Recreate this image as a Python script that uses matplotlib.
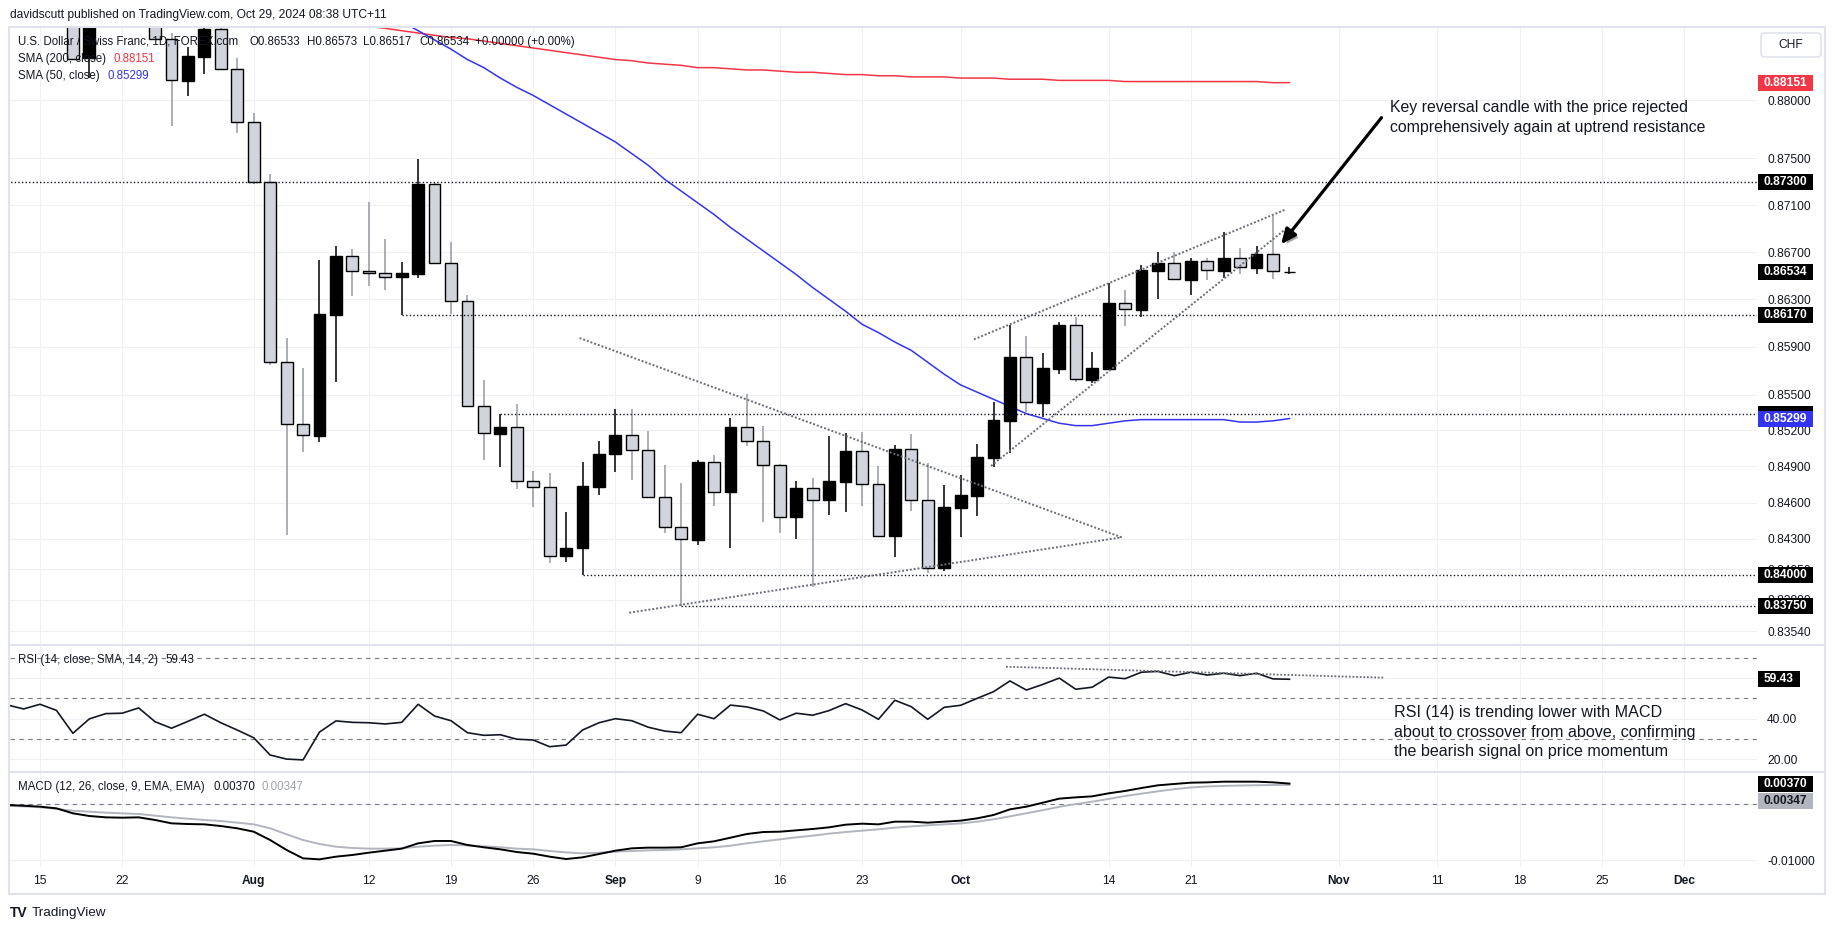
import numpy as np
import pandas as pd
import matplotlib
matplotlib.use("Agg")
import matplotlib.pyplot as plt
from matplotlib.patches import Rectangle, FancyBboxPatch, FancyArrowPatch
from matplotlib.lines import Line2D
from matplotlib.transforms import IdentityTransform
from matplotlib.ticker import NullLocator
import matplotlib.patheffects as pe

plt.rcParams['font.family'] = ['Liberation Sans', 'DejaVu Sans']

W, H, DPI = 1835, 931, 100
TXT = '#131722'

# ---------------- data ----------------
dates = pd.bdate_range('2024-07-11', '2024-10-29')

opens = [0.9010, 0.8965,
         0.8960, 0.8975, 0.8940, 0.8836, 0.8880,
         0.8905, 0.8910, 0.8895, 0.88528, 0.88168,
         0.88375, 0.88612, 0.88266, 0.87809, 0.8730,
         0.85770, 0.85251, 0.85156, 0.86171, 0.86665,
         0.86538, 0.86521, 0.86487, 0.86518, 0.87280,
         0.86605, 0.86284, 0.85401, 0.85173, 0.85226,
         0.84777, 0.84727, 0.84161, 0.84222, 0.84732,
         0.85001, 0.85159, 0.85034, 0.84649, 0.84396,
         0.84291, 0.84935, 0.84690, 0.85226, 0.85109,
         0.84915, 0.84478, 0.84719, 0.84624, 0.84774,
         0.85026, 0.84752, 0.84326, 0.85043, 0.84619,
         0.84063, 0.84558, 0.84657, 0.84973, 0.85281,
         0.85815, 0.85433, 0.85714, 0.86084, 0.85624,
         0.85714, 0.86267, 0.86210, 0.86543, 0.86605,
         0.86467, 0.86625, 0.86543, 0.86648, 0.86568,
         0.86682, 0.86533]
highs = [0.9025, 0.8980,
         0.8985, 0.8980, 0.8950, 0.8895, 0.8915,
         0.8920, 0.8925, 0.8905, 0.8858, 0.88456,
         0.8868, 0.8866, 0.88361, 0.87886, 0.87366,
         0.85972, 0.85720, 0.86633, 0.86752, 0.86727,
         0.87127, 0.86812, 0.86614, 0.87494, 0.87290,
         0.86786, 0.86335, 0.85622, 0.85340, 0.85421,
         0.84860, 0.84846, 0.84525, 0.84937, 0.85112,
         0.85379, 0.85379, 0.85195, 0.84912, 0.84765,
         0.84954, 0.84996, 0.85304, 0.85504, 0.85237,
         0.84920, 0.84779, 0.84804, 0.85153, 0.85176,
         0.85187, 0.84904, 0.85078, 0.85168, 0.84931,
         0.84746, 0.84829, 0.85084, 0.85435, 0.86084,
         0.85991, 0.85848, 0.86107, 0.86154, 0.85857,
         0.86436, 0.86379, 0.86591, 0.86701, 0.86701,
         0.86653, 0.86653, 0.86874, 0.86735, 0.86752,
         0.87010, 0.86573]
lows = [0.8955, 0.8940,
        0.8950, 0.8930, 0.8835, 0.88188, 0.8870,
        0.8875, 0.8875, 0.8852, 0.87780, 0.88038,
        0.88223, 0.88266, 0.87720, 0.87278, 0.85747,
        0.84332, 0.85023, 0.85106, 0.85607, 0.86331,
        0.86416, 0.86382, 0.86170, 0.86484, 0.86600,
        0.86174, 0.85395, 0.84954, 0.84898, 0.84715,
        0.84566, 0.84099, 0.84107, 0.84000, 0.84661,
        0.84856, 0.84787, 0.84641, 0.84346, 0.83750,
        0.84250, 0.84572, 0.84227, 0.85070, 0.84440,
        0.84351, 0.84299, 0.83906, 0.84497, 0.84522,
        0.84572, 0.84312, 0.84153, 0.84531, 0.84022,
        0.84038, 0.84318, 0.84492, 0.84898, 0.85009,
        0.85356, 0.85312, 0.85669, 0.85602, 0.85599,
        0.85706, 0.86078, 0.86154, 0.86303, 0.86464,
        0.86337, 0.86464, 0.86484, 0.86515, 0.86518,
        0.86475, 0.86517]
closes = [0.8965, 0.8960,
          0.8975, 0.8940, 0.88355, 0.8880, 0.8905,
          0.8910, 0.8895, 0.88528, 0.88171, 0.88381,
          0.88612, 0.88266, 0.87809, 0.8730, 0.85770,
          0.85251, 0.85159, 0.86174, 0.86667, 0.86538,
          0.86521, 0.86487, 0.86524, 0.87280, 0.86605,
          0.86284, 0.85401, 0.85176, 0.85226, 0.84777,
          0.84727, 0.84161, 0.84225, 0.84738, 0.85004,
          0.85159, 0.85034, 0.84649, 0.84396, 0.84299,
          0.84935, 0.84690, 0.85226, 0.85109, 0.84915,
          0.84478, 0.84719, 0.84624, 0.84777, 0.85026,
          0.84752, 0.84326, 0.85043, 0.84619, 0.84063,
          0.84561, 0.84663, 0.84979, 0.85287, 0.85815,
          0.85435, 0.85720, 0.86084, 0.85628, 0.85720,
          0.86267, 0.86216, 0.86549, 0.86605, 0.86470,
          0.86625, 0.86549, 0.86648, 0.86571, 0.86682,
          0.86538, 0.86534]

sma200 = [0.8906, 0.8904, 0.8902, 0.8900, 0.8898, 0.8897, 0.8895, 0.8893, 0.8891, 0.8889,
          0.8887, 0.8885, 0.8883, 0.8881, 0.8879, 0.8877, 0.8875, 0.8873, 0.8871, 0.8869,
          0.8868, 0.8866, 0.8864, 0.8862, 0.8860, 0.8858, 0.8856, 0.8854, 0.8853, 0.8851,
          0.8849, 0.8847, 0.8845, 0.8843, 0.8841, 0.8839, 0.8837, 0.8835, 0.8834, 0.8832,
          0.8831, 0.8830, 0.8828, 0.8828, 0.8827, 0.8826, 0.8826, 0.8825, 0.8824, 0.8824,
          0.8823, 0.8822, 0.8822, 0.8821, 0.8821, 0.8820, 0.8820, 0.8820, 0.8819, 0.8819,
          0.8819, 0.8818, 0.8818, 0.8818, 0.8817, 0.8817, 0.8817, 0.8817, 0.8816, 0.8816,
          0.8816, 0.8816, 0.8816, 0.8816, 0.8816, 0.8816, 0.8816, 0.8815, 0.88151]
sma50 = [0.8961, 0.8958, 0.8955, 0.8952, 0.8949, 0.8946, 0.8943, 0.8940, 0.8937, 0.8934,
         0.8931, 0.8928, 0.8925, 0.8922, 0.8919, 0.8915, 0.8911, 0.8907, 0.8903, 0.8898,
         0.8893, 0.8887, 0.8881, 0.8875,
         0.8868, 0.8860, 0.8852, 0.8844, 0.8835, 0.8828, 0.8819, 0.8811, 0.8804, 0.8796,
         0.8788, 0.8780, 0.8772, 0.8764, 0.8754, 0.8744, 0.8732, 0.8722, 0.8712, 0.8702,
         0.8691, 0.8681, 0.8671, 0.8661, 0.8651, 0.8640, 0.8630, 0.8620, 0.8609, 0.8602,
         0.8594, 0.8587, 0.8577, 0.8567, 0.8558, 0.8552, 0.8546, 0.8540, 0.8534, 0.8530,
         0.8526, 0.8524, 0.8524, 0.8526, 0.8528, 0.8529, 0.8529, 0.8529, 0.8529, 0.8529,
         0.8529, 0.8527, 0.8527, 0.8528, 0.85299]

rsi = [46.8, 44.8, 47.1, 44.1, 32.8, 39.9, 42.5, 42.7, 45.3, 38.5,
       35.3, 38.7, 42.2, 38.0, 34.4, 30.6, 22.1, 20.1, 19.7, 33.4,
       38.9, 38.2, 38.0, 37.4, 38.2, 47.1, 41.3, 39.0, 33.1, 31.8,
       32.1, 29.9, 29.5, 26.2, 27.0, 34.4, 38.0, 40.0, 39.0, 35.8,
       33.9, 33.1, 42.2, 40.0, 46.7, 45.8, 43.8, 39.4, 42.7, 41.7,
       44.0, 47.4, 44.3, 39.7, 49.1, 45.9, 39.7, 45.6, 46.6, 50.0,
       53.3, 58.6, 54.1, 56.9, 60.0, 54.5, 55.5, 60.5, 59.7, 62.9,
       63.3, 61.2, 62.9, 61.5, 62.4, 61.2, 62.4, 59.6, 59.43]

macd = [-0.00013, -0.00025, -0.00042, -0.00072, -0.00161, -0.00209, -0.00233, -0.00239, -0.00233, -0.00280,
        -0.00340, -0.00352, -0.00358, -0.00388, -0.00429, -0.00489, -0.00638, -0.00816, -0.00965, -0.00983,
        -0.00935, -0.00905, -0.00864, -0.00828, -0.00792, -0.00697, -0.00655, -0.00655, -0.00727, -0.00768,
        -0.00804, -0.00852, -0.00882, -0.00935, -0.00977, -0.00947, -0.00888, -0.00828, -0.00786, -0.00774,
        -0.00774, -0.00768, -0.00697, -0.00661, -0.00596, -0.00530, -0.00495, -0.00489, -0.00465, -0.00441,
        -0.00411, -0.00364, -0.00346, -0.00358, -0.00310, -0.00310, -0.00328, -0.00310, -0.00292, -0.00251,
        -0.00191, -0.00090, -0.00042, 0.00029, 0.00101, 0.00124, 0.00142, 0.00196, 0.00238, 0.00291,
        0.00339, 0.00363, 0.00386, 0.00392, 0.00404, 0.00404, 0.00404, 0.00392, 0.00370]
signal = [-0.00024, -0.00038, -0.00052, -0.00082, -0.00114, -0.00132, -0.00149, -0.00161, -0.00173, -0.00203,
          -0.00233, -0.00257, -0.00280, -0.00298, -0.00328, -0.00358, -0.00429, -0.00536, -0.00638, -0.00709,
          -0.00757, -0.00780, -0.00792, -0.00792, -0.00786, -0.00757, -0.00739, -0.00727, -0.00733, -0.00751,
          -0.00768, -0.00792, -0.00804, -0.00834, -0.00858, -0.00876, -0.00864, -0.00846, -0.00834, -0.00822,
          -0.00816, -0.00804, -0.00786, -0.00768, -0.00739, -0.00697, -0.00661, -0.00626, -0.00590, -0.00560,
          -0.00524, -0.00495, -0.00471, -0.00447, -0.00417, -0.00395, -0.00375, -0.00358, -0.00342, -0.00310,
          -0.00268, -0.00215, -0.00160, -0.00105, -0.00045, 0.00003, 0.00047, 0.00095, 0.00148, 0.00190,
          0.00232, 0.00270, 0.00300, 0.00318, 0.00328, 0.00335, 0.00340, 0.00344, 0.00347]

date_ticks = ['2024-07-15', '2024-07-22', '2024-08-01', '2024-08-12', '2024-08-19', '2024-08-26',
              '2024-09-02', '2024-09-09', '2024-09-16', '2024-09-23', '2024-10-01', '2024-10-14',
              '2024-10-21', '2024-11-01', '2024-11-11', '2024-11-18', '2024-11-25', '2024-12-02']
date_tick_labels = ['15', '22', 'Aug', '12', '19', '26', 'Sep', '9', '16', '23', 'Oct', '14',
                    '21', 'Nov', '11', '18', '25', 'Dec']
price_ticks = [0.88, 0.875, 0.871, 0.867, 0.863, 0.859, 0.855, 0.852, 0.849, 0.846, 0.843,
               0.8405, 0.838, 0.8354]

h_levels = [0.8730, 0.8617, 0.8534, 0.8400, 0.8375]
h_starts = ['2024-07-11', '2024-08-14', '2024-08-22', '2024-08-29', '2024-09-06']

# drawn trendlines: (bar position, value) pairs
tri_top = ([34.82, 67.79], [0.85974, 0.84313])
tri_bot = ([37.84, 67.79], [0.83693, 0.84313])
wedge_low = ([59.85, 77.85], [0.84904, 0.86905])
wedge_up = ([58.81, 77.79], [0.85963, 0.87064])
rsi_trend = ([60.76, 83.75], [65.6, 60.2])
arrow_from = (83.6, 0.87849)
arrow_to = (77.49, 0.86767)

for arr in (opens, highs, lows, closes, sma200, sma50, rsi, macd, signal):
    assert len(arr) == len(dates), len(arr)

# ---------------- figure ----------------
k = np.arange(len(dates))
o, hi, lo, c = map(np.array, (opens, highs, lows, closes))
up = c >= o
all_days = pd.bdate_range('2024-07-11', '2024-12-31')
pos_of = lambda d: all_days.get_loc(pd.Timestamp(d))
XL = (0.175, 106.44)

fig = plt.figure(figsize=(W / DPI, H / DPI), dpi=DPI, facecolor='white')


def frac(x0, y0, x1, y1):
    return [x0 / W, 1 - y1 / H, (x1 - x0) / W, (y1 - y0) / H]


ax = fig.add_axes(frac(10, 27, 1757, 645))
ax_rsi = fig.add_axes(frac(10, 645, 1757, 772), sharex=ax)
ax_macd = fig.add_axes(frac(10, 772, 1757, 867), sharex=ax)
ax.set_yscale('log')

GRID = '#eef0f5'
for a in (ax, ax_rsi, ax_macd):
    for s in a.spines.values():
        s.set_visible(False)
    a.grid(True, color=GRID, lw=0.8)
    a.set_axisbelow(True)
    a.yaxis.tick_right()
    a.tick_params(axis='y', which='both', length=0, pad=7.2, labelsize=8.64, labelcolor=TXT)
    a.tick_params(axis='x', length=0)

ax.set_xlim(*XL)
ax_macd.set_xticks([pos_of(d) for d in date_ticks], labels=date_tick_labels)
ax.tick_params(axis='x', labelbottom=False)
ax_rsi.tick_params(axis='x', labelbottom=False)
ax_macd.tick_params(axis='x', labelsize=8.64, labelcolor=TXT, pad=6)
for t in ax_macd.get_xticklabels():
    if t.get_text() in ('Aug', 'Sep', 'Oct', 'Nov', 'Dec'):
        t.set_fontweight('bold')

# main pane
ax.set_ylim(0.83429, 0.88632)
ax.set_yticks(price_ticks, labels=[f'{v:.5f}' for v in price_ticks])
ax.yaxis.set_minor_locator(NullLocator())

ax.vlines(k, lo, hi, colors=np.where(up, '#000000', '#9598a1'), lw=1.1, zorder=2)
ax.bar(k, np.maximum(np.abs(c - o), 1e-6), bottom=np.minimum(o, c), width=0.72,
       color=np.where(up, '#000000', '#d1d4dc'), edgecolor='#000000', linewidth=1.0, zorder=3)
ax.plot(k, sma200, color='#f23645', lw=1.1, zorder=2.5)
ax.plot(k, sma50, color='#3434f0', lw=1.1, zorder=2.5)

for lev, st in zip(h_levels, h_starts):
    ax.hlines(lev, pos_of(st), XL[1], colors=TXT, lw=1.0, linestyles=(0, (1, 1.6)), zorder=4)
for xs, ys in (tri_top, tri_bot, wedge_low, wedge_up):
    ax.plot(xs, ys, color='#6a6d78', lw=1.4, ls=(0, (1, 1)), zorder=4)

arrow = FancyArrowPatch(arrow_from, arrow_to, arrowstyle='-|>,head_length=9,head_width=4',
                        mutation_scale=1, lw=2.3, color='black', shrinkA=0, shrinkB=0, zorder=6,
                        path_effects=[pe.SimplePatchShadow(offset=(2, -2), alpha=0.35), pe.Normal()])
ax.add_patch(arrow)

# RSI pane
ax_rsi.set_ylim(13.74, 76.3)
ax_rsi.set_yticks([20, 40, 60], labels=['20.00', '40.00', '60.00'])
for lv in (70, 50, 30):
    ax_rsi.axhline(lv, color='#787b86', lw=0.8, ls=(0, (4, 4)), zorder=1)
ax_rsi.plot(k, rsi, color=TXT, lw=1.2, zorder=3)
ax_rsi.plot(*rsi_trend, color='#6a6d78', lw=1.3, ls=(0, (1, 1)), zorder=4)

# MACD pane (zero tick label sits fully under the signal label, so only its grid line is drawn)
ax_macd.set_ylim(-0.011196, 0.005768)
ax_macd.set_yticks([0.0, -0.01], labels=['', '-0.01000'])
ax_macd.axhline(0, color='#787b86', lw=0.8, ls=(0, (4, 4)), zorder=1)
ax_macd.plot(k, signal, color='#b2b5be', lw=1.4, zorder=3)
ax_macd.plot(k, macd, color='#000000', lw=1.4, zorder=4)

# ---------------- frame / separators ----------------
IT = IdentityTransform()
fig.add_artist(Rectangle((9, H - 894), 1816, 894 - 26.7, transform=IT, fill=False,
                         ec='#e0e3eb', lw=1.5, zorder=8))
for ysep in (645, 772):
    fig.add_artist(Line2D([9, 1825], [H - ysep, H - ysep], transform=IT, color='#e0e3eb', lw=1.5, zorder=8))

fig.add_artist(FancyBboxPatch((1761, H - 57), 60, 24, boxstyle='round,pad=0,rounding_size=4',
                              transform=IT, fc='white', ec='#e0e3eb', lw=1.2, zorder=8))
fig.text(1791 / W, (H - 45) / H, 'CHF', ha='center', va='center', fontsize=8.64, color=TXT, zorder=9)


def ypix(a, v):
    return a.transData.transform((XL[0], v))[1]


_z = [9.0]


def box(yc, text, fc, tc='white', x0=1758, w=55, hgt=16):
    z = _z[0]
    _z[0] += 0.1
    fig.add_artist(Rectangle((x0, yc - hgt / 2), w, hgt, transform=IT, fc=fc, ec='none', zorder=z))
    if text:
        fig.text((x0 + w / 2) / W, yc / H, text, ha='center', va='center', color=tc,
                 fontsize=8.64, fontweight='bold', zorder=z + 0.05)


box(ypix(ax, sma200[-1]), f'{sma200[-1]:.5f}', '#f23645')
for lev in h_levels:
    # the 0.8534 level label sits underneath the SMA(50) label
    box(ypix(ax, lev), f'{lev:.5f}' if lev != 0.8534 else '', '#000000')
box(ypix(ax, closes[-1]), f'{closes[-1]:.5f}', '#000000')
box(ypix(ax, sma50[-1]), f'{sma50[-1]:.5f}', '#3434f0')
box(ypix(ax_rsi, rsi[-1]), f'{rsi[-1]:.2f}', '#000000', w=42)
ym = ypix(ax_macd, macd[-1])
box(ym, f'{macd[-1]:.5f}', '#000000')
box(ym - 17, f'{signal[-1]:.5f}', '#b2b5be', tc=TXT)

# ---------------- texts ----------------
def ftxt(x, y, s, **kw):
    kw.setdefault('fontsize', 8.3)
    kw.setdefault('color', TXT)
    fig.text(x / W, 1 - y / H, s, va='center', ha='left', zorder=9, **kw)


ftxt(10, 15, 'davidscutt published on TradingView.com, Oct 29, 2024 08:38 UTC+11', fontsize=8.64)
ftxt(18, 42, 'U.S. Dollar / Swiss Franc, 1D, FOREX.com')
ftxt(249, 42, f'O{opens[-1]:.5f}')
ftxt(307, 42, f'H{highs[-1]:.5f}')
ftxt(363, 42, f'L{lows[-1]:.5f}')
ftxt(419, 42, f'C{closes[-1]:.5f}')
ftxt(475, 42, '+0.00000 (+0.00%)')
ftxt(18, 59, 'SMA (200, close)')
ftxt(113, 59, f'{sma200[-1]:.5f}', color='#f23645')
ftxt(18, 76, 'SMA (50, close)')
ftxt(107, 76, f'{sma50[-1]:.5f}', color='#3434f0')
ftxt(18, 660, 'RSI (14, close, SMA, 14, 2)')
ftxt(165, 660, f'{rsi[-1]:.2f}')
ftxt(18, 787, 'MACD (12, 26, close, 9, EMA, EMA)')
ftxt(213, 787, f'{macd[-1]:.5f}')
ftxt(261, 787, f'{signal[-1]:.5f}', color='#a0a3ad')

fig.text(1390 / W, 1 - 100 / H,
         'Key reversal candle with the price rejected\ncomprehensively again at uptrend resistance',
         ha='left', va='top', fontsize=11.4, color=TXT, linespacing=1.4, zorder=9)
fig.text(1394 / W, 1 - 705 / H,
         'RSI (14) is trending lower with MACD\nabout to crossover from above, confirming\nthe bearish signal on price momentum',
         ha='left', va='top', fontsize=11.6, color=TXT, linespacing=1.38, zorder=9)

ftxt(10, 913, 'TV', fontsize=10, fontweight='heavy')
ftxt(32, 913, 'TradingView', fontsize=9.7)

fig.savefig('out.png', dpi=DPI, facecolor='white')
